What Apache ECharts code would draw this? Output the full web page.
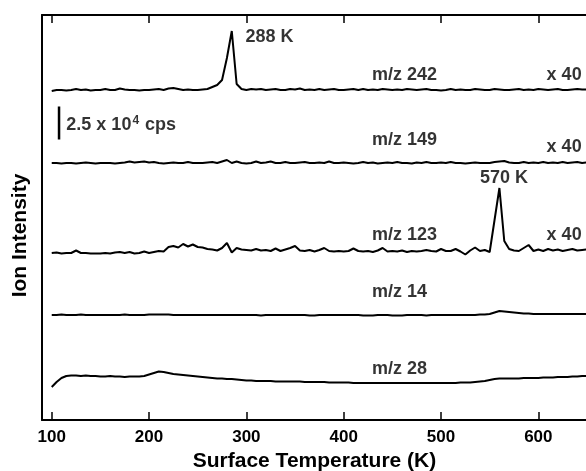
<!DOCTYPE html>
<html>
<head>
<meta charset="utf-8">
<script src="https://cdn.jsdelivr.net/npm/echarts@6/dist/echarts.min.js"></script>
<style>
  html, body { margin: 0; padding: 0; background: #fff; }
  #main { width: 586px; height: 471px; }
</style>
</head>
<body>
<div id="main"></div>
<script>
// surface temperature (K), 5 K steps
var temps = [
  100, 105, 110, 115, 120, 125, 130, 135, 140, 145,
  150, 155, 160, 165, 170, 175, 180, 185, 190, 195,
  200, 205, 210, 215, 220, 225, 230, 235, 240, 245,
  250, 255, 260, 265, 270, 275, 280, 285, 290, 295,
  300, 305, 310, 315, 320, 325, 330, 335, 340, 345,
  350, 355, 360, 365, 370, 375, 380, 385, 390, 395,
  400, 405, 410, 415, 420, 425, 430, 435, 440, 445,
  450, 455, 460, 465, 470, 475, 480, 485, 490, 495,
  500, 505, 510, 515, 520, 525, 530, 535, 540, 545,
  550, 555, 560, 565, 570, 575, 580, 585, 590, 595,
  600, 605, 610, 615, 620, 625, 630, 635, 640, 645,
  650
];

// offset traces (arbitrary intensity units, stacked)
var mz242 = [
  329, 330, 330, 329.5, 330, 331, 330, 330.5, 329.5, 330,
  330, 331, 330, 330, 331.5, 330.5, 330, 330, 329.5, 330,
  330, 330.5, 331, 330, 331.5, 332, 331, 330, 330.5, 330,
  330, 330.5, 331, 333, 335, 340, 362, 389, 336, 331,
  330, 331, 330.5, 331, 330, 330.5, 331, 330, 330, 331,
  330.5, 331.5, 330, 330.5, 330, 331, 330, 330.5, 331, 330,
  330, 330.5, 331, 330, 331, 330, 330.5, 330, 331, 330.5,
  330, 330.5, 330, 331, 330.5, 330, 330.5, 331, 330, 330,
  329.5, 330, 331, 330, 330.5, 330, 330, 331, 330.5, 330,
  330, 331, 330.5, 330, 330, 330.5, 331, 330, 330.5, 330,
  331, 330.5, 330, 330.5, 331, 330, 330, 330.5, 331, 330.5,
  330.5
];
var mz149 = [
  257, 257, 256.5, 257, 257, 256.5, 257, 257.5, 257, 256.5,
  257, 257, 257, 256.5, 257, 257.5, 258.5, 257.5, 258, 258.5,
  257.5, 258, 257, 256.5, 257, 257.5, 257, 257, 258, 257,
  257, 257, 257.5, 258, 257, 258.5, 260, 257, 258.5, 257,
  256.5, 257, 258.5, 257, 257.5, 258.5, 257, 257, 258, 257,
  257, 257.5, 258, 257, 257, 257.5, 257, 258.5, 257, 257,
  257.5, 257, 256.5, 257, 258, 257, 257.5, 256.5, 257, 257.5,
  257, 258, 257, 257, 256.5, 257.5, 257, 258, 257, 257,
  257.5, 257, 258, 257, 257, 256.5, 257, 257.5, 257, 257,
  257, 258, 258.5, 259, 257.5, 257, 257, 258, 257, 257.5,
  257, 258, 257, 257.5, 257, 258, 257, 257.5, 258, 257,
  257.5
];
var mz123 = [
  167, 167.5, 166.5, 167, 167, 169.5, 167, 167, 166.5, 166.5,
  166.5, 167, 166.5, 167.5, 168, 167, 168, 166.5, 167, 168.5,
  167, 168, 169, 168.5, 173, 174, 172.5, 176, 173.5, 175.5,
  173, 172.5, 171, 170.5, 169.5, 172, 177, 167.5, 172, 170.5,
  170, 169.5, 171, 169.5, 170, 169, 171.5, 169, 170.5, 172,
  174, 169.5, 169, 170, 168.5, 170, 172, 169, 168.5, 169,
  168.5, 169, 171.5, 169, 168.5, 169, 168, 169.5, 172, 168.5,
  169, 168.5, 169.5, 168, 169, 168.5, 169, 170, 169, 168.5,
  171, 169, 169, 171, 168.5, 165.5, 169.5, 172.5, 169, 170,
  168, 200, 232, 179, 171, 169.5, 169, 172, 175, 169,
  170.5, 169, 171, 169.5, 170.5, 169, 170, 171, 169.5, 170,
  170.5
];
var mz14 = [
  105, 105, 105.5, 105, 105, 105, 105.5, 105, 105, 105,
  105, 105, 105, 105, 105, 105.5, 105, 105, 105, 105,
  105.5, 105.5, 105.5, 105.5, 105.5, 105, 105, 105, 105, 105,
  105, 105, 105, 105, 105, 105, 105, 105, 105, 105,
  105, 105, 105, 104.5, 105, 105, 105, 105, 105, 105,
  105, 105, 105, 104.5, 104.5, 105, 105, 105, 105, 105,
  105, 105, 105, 105, 104.5, 104.5, 104.5, 105, 105, 105,
  104.5, 104.5, 104.5, 105, 105, 105, 105, 104.5, 105, 105,
  105, 105, 105, 105, 105, 105, 105, 105, 105.5, 105.5,
  106, 107.5, 109, 108.5, 108, 107.5, 107, 106.5, 106.5, 106,
  106, 106, 106, 106, 106, 106, 106, 106, 106, 106,
  106
];
var mz28 = [
  33, 38, 42, 44, 44.5, 44.5, 44, 44.5, 44, 44,
  43.5, 43.5, 44, 43.5, 43.5, 43, 43.5, 43.5, 43.5, 44,
  45.5, 47, 48.5, 48, 47, 46, 45.5, 45, 44.5, 44,
  43.5, 43, 42.5, 42, 41.5, 41.5, 41, 41, 40.5, 40,
  39.5, 39.5, 39, 39, 39, 39, 38.5, 38.5, 38.5, 38.5,
  38.5, 38.5, 38, 38, 38, 38, 38, 37.5, 37.5, 37.5,
  37.5, 37.5, 37, 37, 37, 37, 37, 37, 37, 37,
  37, 37, 37, 37, 37, 37, 37, 37, 37, 37,
  37, 37, 37, 37, 37.5, 37.5, 37.5, 38, 38.5, 39,
  40, 41, 41.5, 41.5, 41.5, 41.5, 41.5, 42, 42, 42,
  42, 42.5, 42.5, 42.5, 43, 43, 43, 43.5, 43.5, 44,
  44
];

var tickTemps = [100, 200, 300, 400, 500, 600];

// annotations: text, temperature, intensity position
var annoText = ['288 K', 'm/z 242', 'x 40', 'm/z 149', 'x 40', '570 K',
  'm/z 123', 'x 40', 'm/z 14', 'm/z 28', '2.5 x 10{sup|4} cps'];
var annoT = [299, 429, 608.5, 429, 608.5, 540, 429, 608.5, 429, 429, 115];
var annoV = [383, 345, 345, 280, 272.5, 241.7, 185, 185, 128.3, 50.5, 295];

// 2.5 x 10^4 cps scale bar
var scaleBarT = [107.5, 107.5];
var scaleBarV = [280.5, 313.5];

var FONT = 'Liberation Sans, Arial, Helvetica, sans-serif';

function pairs(xs, ys) {
  var out = [];
  for (var i = 0; i < xs.length; i++) out.push([xs[i], ys[i]]);
  return out;
}

var chart = echarts.init(document.getElementById('main'), null, { renderer: 'canvas' });

var traces = [['m/z 242', mz242], ['m/z 149', mz149], ['m/z 123', mz123], ['m/z 14', mz14], ['m/z 28', mz28]];
var series = traces.map(function (t) {
  return {
    name: t[0],
    type: 'line',
    data: pairs(temps, t[1]),
    showSymbol: false,
    lineStyle: { color: '#000', width: 2 },
    xAxisIndex: 0,
    yAxisIndex: 0,
    z: 3
  };
});

series.push({
  name: 'scale',
  type: 'line',
  data: pairs(scaleBarT, scaleBarV),
  showSymbol: false,
  lineStyle: { color: '#000', width: 2.5 },
  z: 3
});

series.push({
  name: 'labels',
  type: 'scatter',
  symbolSize: 0,
  data: annoText.map(function (txt, i) {
    return { value: [annoT[i], annoV[i]], name: txt };
  }),
  label: {
    show: true,
    position: 'right',
    distance: 0,
    formatter: '{b}',
    color: '#000',
    fontFamily: FONT,
    fontWeight: 'bold',
    fontSize: 18,
    align: 'left',
    verticalAlign: 'middle',
    rich: {
      sup: { fontSize: 12, fontWeight: 'bold', fontFamily: FONT, color: '#000', padding: [0, 1, 9, 1] }
    }
  },
  z: 4
});

var option = {
  animation: false,
  grid: { left: 42, top: 15, right: -1, bottom: 51, containLabel: false, outerBoundsMode: 'none' },
  xAxis: [
    {
      type: 'value',
      min: 90,
      max: 650,
      name: 'Surface Temperature (K)',
      nameLocation: 'middle',
      nameGap: 31,
      nameTextStyle: { color: '#000', fontFamily: FONT, fontWeight: 'bold', fontSize: 21 },
      axisLine: { show: true, onZero: false, lineStyle: { color: '#000', width: 2 } },
      axisTick: { show: true, inside: true, length: 8, customValues: tickTemps, lineStyle: { color: '#000', width: 1.5 } },
      axisLabel: { show: true, customValues: tickTemps, margin: 9, color: '#000', fontFamily: FONT, fontWeight: 'bold', fontSize: 17 },
      splitLine: { show: false }
    },
    {
      type: 'value',
      position: 'top',
      min: 90,
      max: 650,
      axisLine: { show: true, onZero: false, lineStyle: { color: '#000', width: 2 } },
      axisTick: { show: true, inside: true, length: 8, customValues: tickTemps, lineStyle: { color: '#000', width: 1.5 } },
      axisLabel: { show: false },
      splitLine: { show: false }
    }
  ],
  yAxis: {
    type: 'value',
    min: 0,
    max: 405,
    name: 'Ion Intensity',
    nameLocation: 'middle',
    nameGap: 11,
    nameTextStyle: { color: '#000', fontFamily: FONT, fontWeight: 'bold', fontSize: 21, padding: [0, 36, 0, 0] },
    axisLine: { show: true, onZero: false, lineStyle: { color: '#000', width: 2 } },
    axisTick: { show: false },
    axisLabel: { show: false },
    splitLine: { show: false }
  },
  series: series
};

chart.setOption(option);
</script>
</body>
</html>
